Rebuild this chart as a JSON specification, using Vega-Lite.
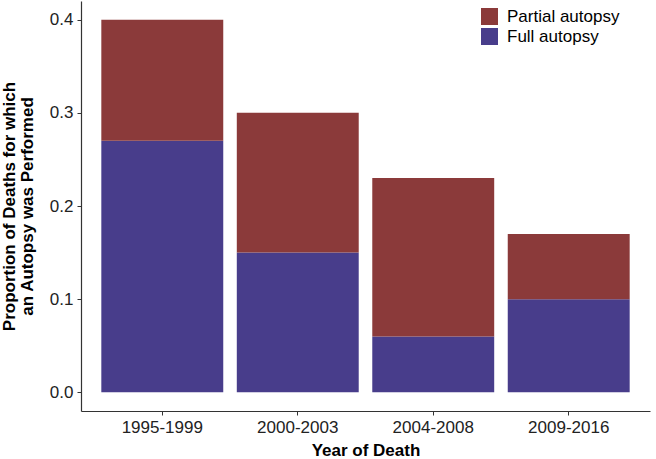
{
  "$schema": "https://vega.github.io/schema/vega-lite/v6.json",
  "autosize": {"type": "none"},
  "padding": {"left": 81, "top": 1, "right": 6, "bottom": 48},
  "width": 569,
  "height": 410,
  "background": "white",
  "config": {
    "view": {"stroke": null},
    "font": "Liberation Sans",
    "axis": {"grid": false, "domainColor": "#333333", "tickColor": "#333333", "labelColor": "#222222", "titleColor": "#000000", "labelFontSize": 17, "titleFontSize": 17, "titleFontWeight": "bold", "tickSize": 4, "domainWidth": 1.2}
  },
  "data": {
    "values": [
      {"period": "1995-1999", "type": "Full autopsy", "value": 0.27},
      {"period": "1995-1999", "type": "Partial autopsy", "value": 0.13},
      {"period": "2000-2003", "type": "Full autopsy", "value": 0.15},
      {"period": "2000-2003", "type": "Partial autopsy", "value": 0.15},
      {"period": "2004-2008", "type": "Full autopsy", "value": 0.06},
      {"period": "2004-2008", "type": "Partial autopsy", "value": 0.17},
      {"period": "2009-2016", "type": "Full autopsy", "value": 0.10},
      {"period": "2009-2016", "type": "Partial autopsy", "value": 0.07}
    ]
  },
  "mark": {"type": "bar"},
  "encoding": {
    "x": {
      "field": "period", "type": "nominal",
      "scale": {"paddingInner": 0.1, "paddingOuter": 0.15},
      "axis": {"title": "Year of Death", "labelAngle": 0, "labelPadding": 4, "titlePadding": 7}
    },
    "y": {
      "field": "value", "type": "quantitative", "stack": "zero",
      "scale": {"domain": [-0.02, 0.42], "nice": false, "zero": false},
      "axis": {"title": ["Proportion of Deaths for which", "an Autopsy was Performed"], "values": [0, 0.1, 0.2, 0.3, 0.4], "format": ".1f", "labelPadding": 4, "titlePadding": 13, "titleLineHeight": 18}
    },
    "color": {
      "field": "type", "type": "nominal",
      "scale": {"domain": ["Partial autopsy", "Full autopsy"], "range": ["#8B3A3A", "#483D8B"]},
      "legend": {"title": null, "orient": "none", "legendX": 400, "legendY": 7, "symbolType": "square", "symbolSize": 289, "symbolStrokeWidth": 0, "symbolOpacity": 1, "labelFontSize": 17, "labelColor": "#000000", "rowPadding": 2, "labelOffset": 9}
    },
    "order": {"field": "type", "sort": "ascending"}
  }
}
